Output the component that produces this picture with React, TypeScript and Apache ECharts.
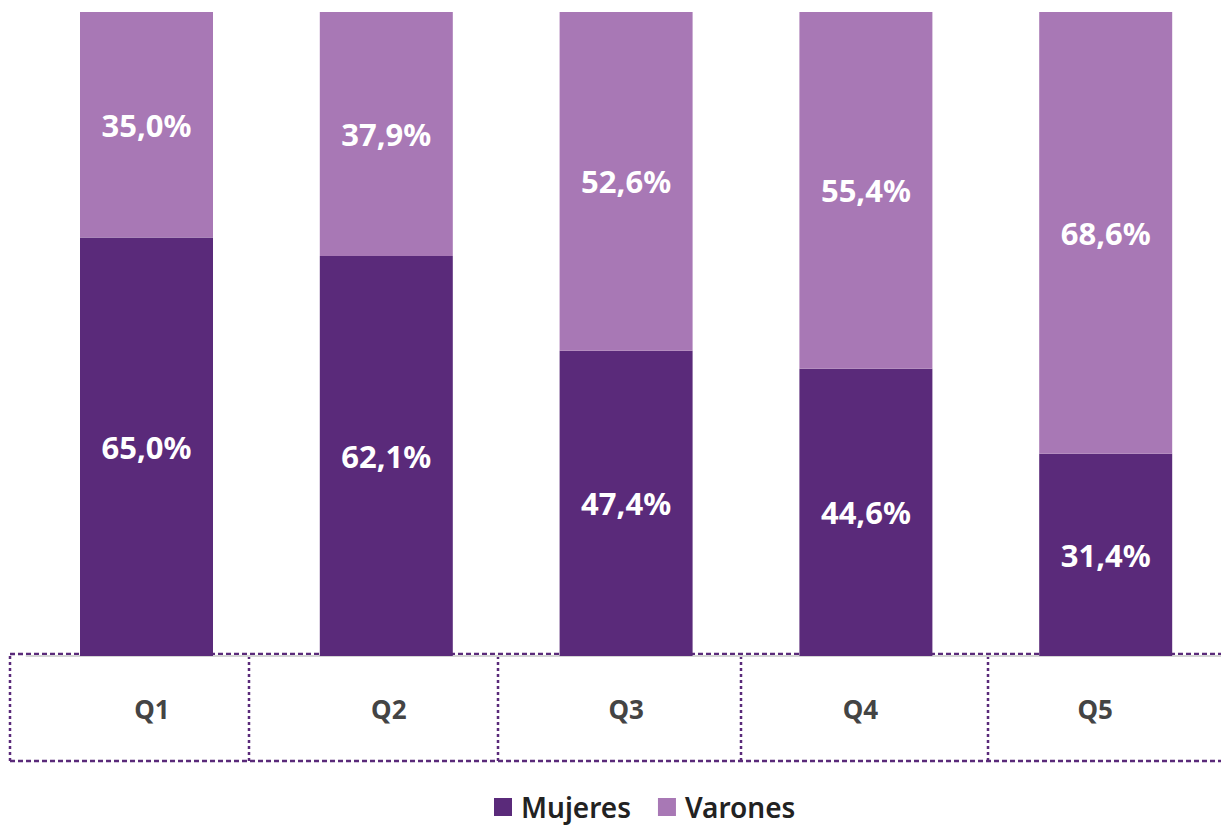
import React, { useEffect, useRef } from "react";
import * as echarts from "echarts";

const categories = ["Q1", "Q2", "Q3", "Q4", "Q5"];
const mujeres = [65.0, 62.1, 47.4, 44.6, 31.4];
const varones = [35.0, 37.9, 52.6, 55.4, 68.6];
const labelShift = [11, 5, 0, -11, -21];

const DARK = "#5a2a7a";
const LIGHT = "#a878b5";
const FONT = "'Noto Sans', 'Open Sans', sans-serif";

const fmt = (v: number) => v.toFixed(1).replace(".", ",") + "%";

export default function App() {
  const ref = useRef<HTMLDivElement>(null);
  useEffect(() => {
    if (!ref.current) return;
    const chart = echarts.init(ref.current, undefined, { renderer: "svg" });
    const rich: any = {};
    categories.forEach((c, i) => {
      const s = labelShift[i];
      rich["c" + i] = {
        fontSize: 26,
        fontWeight: "bold",
        color: "#444",
        fontFamily: FONT,
        padding: s >= 0 ? [0, 0, 0, s] : [0, -s, 0, 0],
      };
    });
    const valueLabel = {
      show: true,
      position: "inside" as const,
      color: "#fff",
      fontSize: 31,
      fontWeight: "bold" as const,
      fontFamily: FONT,
      formatter: (p: any) => fmt(p.value),
    };
    const dash = { stroke: DARK, lineWidth: 2.5, lineDash: [5, 3] };
    const vdash = { stroke: DARK, lineWidth: 2.5, lineDash: [3, 3] };
    const vx = [10, 249, 498, 741, 988];
    chart.setOption({
      animation: false,
      grid: { left: 26.6, top: 12, width: 1199, bottom: 169, containLabel: false },
      legend: {
        data: ["Mujeres", "Varones"],
        left: 494,
        top: 792,
        padding: 0,
        itemWidth: 18,
        itemHeight: 18,
        itemGap: 27,
        icon: "rect",
        textStyle: {
          fontSize: 28,
          lineHeight: 30,
          color: "#222",
          fontFamily: FONT,
          fontWeight: 600,
          padding: [0, 0, 0, 4],
        },
      },
      xAxis: {
        type: "category",
        data: categories,
        axisLine: { show: true, lineStyle: { color: "#d4d4d4", width: 2 } },
        axisTick: { show: false },
        axisLabel: {
          margin: 40,
          formatter: (v: string) => {
            const i = categories.indexOf(v);
            return `{c${i}|${v}}`;
          },
          rich,
        },
      },
      yAxis: { type: "value", min: 0, max: 100, show: false, splitLine: { show: false } },
      series: [
        {
          name: "Mujeres",
          type: "bar",
          stack: "total",
          data: mujeres,
          barWidth: 133,
          itemStyle: { color: DARK },
          label: valueLabel,
          z: 3,
        },
        {
          name: "Varones",
          type: "bar",
          stack: "total",
          data: varones,
          barWidth: 133,
          itemStyle: { color: LIGHT },
          label: valueLabel,
          z: 3,
        },
      ],
      graphic: [
        { type: "line", z: 0, shape: { x1: 10, y1: 654, x2: 1221, y2: 654 }, style: dash },
        { type: "line", z: 0, shape: { x1: 10, y1: 761, x2: 1221, y2: 761 }, style: dash },
        ...vx.map((x) => ({
          type: "line",
          z: 0,
          shape: { x1: x, y1: 656, x2: x, y2: 761 },
          style: vdash,
        })),
      ],
    });
    return () => chart.dispose();
  }, []);
  return (
    <div
      style={{
        position: "absolute",
        left: 0,
        top: 0,
        width: 1221,
        height: 825,
        overflow: "hidden",
      }}
    >
      <div ref={ref} style={{ width: 1240, height: 825 }} />
    </div>
  );
}
